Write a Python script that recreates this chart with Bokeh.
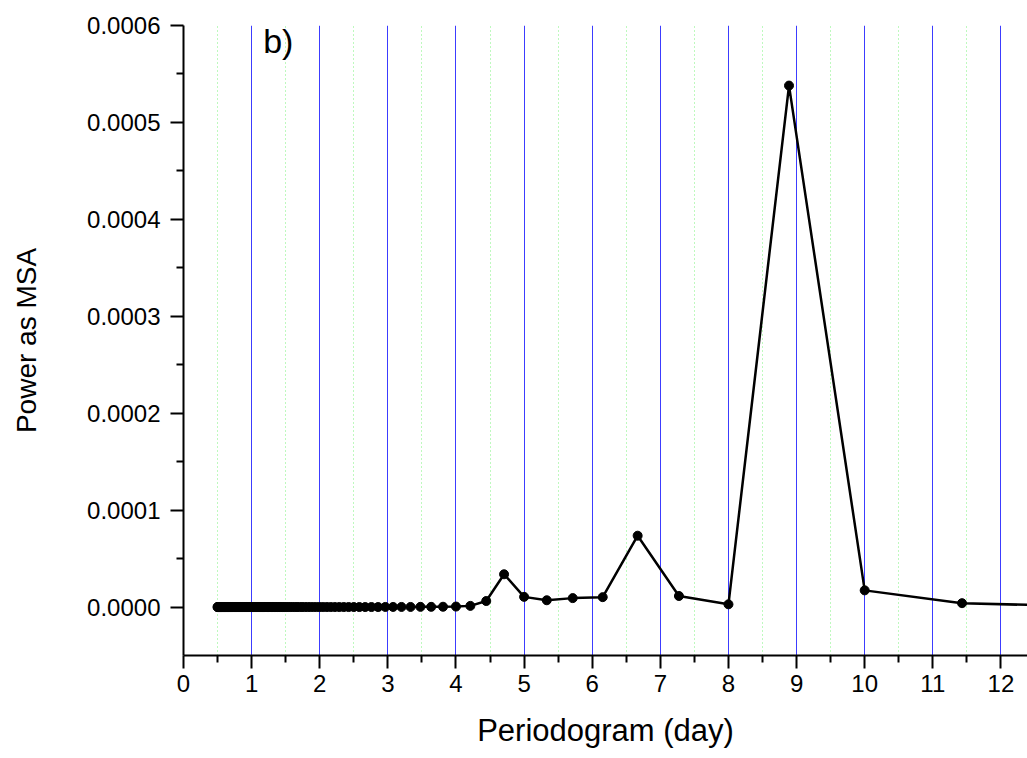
from bokeh.plotting import figure
from bokeh.models import FixedTicker, PrintfTickFormatter, Range1d, Label
from bokeh.embed import file_html
from bokeh.resources import INLINE

# Period (day) of each periodogram ordinate
period_days = [
    13.333, 11.429, 10.000, 8.889, 8.000, 7.273, 6.667, 6.154, 5.714, 5.333,
    5.000, 4.706, 4.444, 4.211, 4.000, 3.810, 3.636, 3.478, 3.333, 3.200,
    3.077, 2.963, 2.857, 2.759, 2.667, 2.581, 2.500, 2.424, 2.353, 2.286,
    2.222, 2.162, 2.105, 2.051, 2.000, 1.951, 1.905, 1.860, 1.818, 1.778,
    1.739, 1.702, 1.667, 1.633, 1.600, 1.569, 1.538, 1.509, 1.481, 1.455,
    1.429, 1.404, 1.379, 1.356, 1.333, 1.311, 1.290, 1.270, 1.250, 1.231,
    1.212, 1.194, 1.176, 1.159, 1.143, 1.127, 1.111, 1.096, 1.081, 1.067,
    1.053, 1.039, 1.026, 1.013, 1.000, 0.988, 0.976, 0.964, 0.952, 0.941,
    0.930, 0.920, 0.909, 0.899, 0.889, 0.879, 0.870, 0.860, 0.851, 0.842,
    0.833, 0.825, 0.816, 0.808, 0.800, 0.792, 0.784, 0.777, 0.769, 0.762,
    0.755, 0.748, 0.741, 0.734, 0.727, 0.721, 0.714, 0.708, 0.702, 0.696,
    0.690, 0.684, 0.678, 0.672, 0.667, 0.661, 0.656, 0.650, 0.645, 0.640,
    0.635, 0.630, 0.625, 0.620, 0.615, 0.611, 0.606, 0.602, 0.597, 0.593,
    0.588, 0.584, 0.580, 0.576, 0.571, 0.567, 0.563, 0.559, 0.556, 0.552,
    0.548, 0.544, 0.541, 0.537, 0.533, 0.530, 0.526, 0.523, 0.519, 0.516,
    0.513, 0.510, 0.506, 0.503, 0.500,
]

# Power as MSA at each period
power_msa = [
    0.0000005, 0.0000040, 0.0000172, 0.000538, 0.0000028, 0.0000114, 0.0000736, 0.0000102, 0.0000092, 0.0000070,
    0.0000105, 0.0000338, 0.0000062, 0.0000012, 0.0000005, 0.0000003, 0.0000002, 0.0000002, 0.0000001, 0.0000001,
    0.0000001, 0.0000001, 0.0, 0.0, 0.0, 0.0, 0.0, 0.0, 0.0, 0.0,
    0.0, 0.0, 0.0, 0.0, 0.0, 0.0, 0.0, 0.0, 0.0, 0.0,
    0.0, 0.0, 0.0, 0.0, 0.0, 0.0, 0.0, 0.0, 0.0, 0.0,
    0.0, 0.0, 0.0, 0.0, 0.0, 0.0, 0.0, 0.0, 0.0, 0.0,
    0.0, 0.0, 0.0, 0.0, 0.0, 0.0, 0.0, 0.0, 0.0, 0.0,
    0.0, 0.0, 0.0, 0.0, 0.0, 0.0, 0.0, 0.0, 0.0, 0.0,
    0.0, 0.0, 0.0, 0.0, 0.0, 0.0, 0.0, 0.0, 0.0, 0.0,
    0.0, 0.0, 0.0, 0.0, 0.0, 0.0, 0.0, 0.0, 0.0, 0.0,
    0.0, 0.0, 0.0, 0.0, 0.0, 0.0, 0.0, 0.0, 0.0, 0.0,
    0.0, 0.0, 0.0, 0.0, 0.0, 0.0, 0.0, 0.0, 0.0, 0.0,
    0.0, 0.0, 0.0, 0.0, 0.0, 0.0, 0.0, 0.0, 0.0, 0.0,
    0.0, 0.0, 0.0, 0.0, 0.0, 0.0, 0.0, 0.0, 0.0, 0.0,
    0.0, 0.0, 0.0, 0.0, 0.0, 0.0, 0.0, 0.0, 0.0, 0.0,
    0.0, 0.0, 0.0, 0.0, 0.0,
]

x_major_ticks = [0, 1, 2, 3, 4, 5, 6, 7, 8, 9, 10, 11, 12]
x_minor_ticks = [0.5, 1.5, 2.5, 3.5, 4.5, 5.5, 6.5, 7.5, 8.5, 9.5, 10.5, 11.5, 12.5]
x_grid_ticks = [1, 2, 3, 4, 5, 6, 7, 8, 9, 10, 11, 12]
y_major_ticks = [0.0, 0.0001, 0.0002, 0.0003, 0.0004, 0.0005, 0.0006]
y_minor_ticks = [0.00005, 0.00015, 0.00025, 0.00035, 0.00045, 0.00055]

panel_label = "b)"
x_title = "Periodogram (day)"
y_title = "Power as MSA"

FONT = "Liberation Sans"

p = figure(width=1027, height=758, output_backend="svg", toolbar_location=None,
           x_range=Range1d(0, 12.39), y_range=Range1d(-0.00005, 0.0006),
           min_border_left=183, min_border_right=0, min_border_top=25,
           min_border_bottom=103)
p.outline_line_color = None
p.background_fill_color = "white"
p.border_fill_color = "white"

# grids
p.ygrid.visible = False
p.xgrid.ticker = FixedTicker(ticks=x_grid_ticks, minor_ticks=x_minor_ticks)
p.xgrid.grid_line_color = "#3c3cff"
p.xgrid.grid_line_width = 1
p.xgrid.minor_grid_line_color = "#7cf27c"
p.xgrid.minor_grid_line_width = 1
p.xgrid.minor_grid_line_dash = "1 3"

# data
p.line(period_days, power_msa, line_color="black", line_width=2.5)
p.scatter(period_days, power_msa, size=9, fill_color="black", line_color="black")

# axes
for ax in (p.xaxis[0], p.yaxis[0]):
    ax.axis_line_width = 2
    ax.axis_line_color = "black"
    ax.major_tick_line_width = 2
    ax.minor_tick_line_width = 2
    ax.major_tick_line_color = "black"
    ax.minor_tick_line_color = "black"
    ax.major_tick_in = 0
    ax.major_tick_out = 13
    ax.minor_tick_in = 0
    ax.minor_tick_out = 7
    ax.major_label_text_font = FONT
    ax.major_label_text_font_size = "24px"
    ax.major_label_text_color = "black"
    ax.axis_label_text_font = FONT
    ax.axis_label_text_font_style = "normal"
    ax.axis_label_text_color = "black"

p.xaxis.ticker = FixedTicker(ticks=x_major_ticks, minor_ticks=x_minor_ticks)
p.xaxis.axis_label = x_title
p.xaxis.axis_label_text_font_size = "31px"
p.xaxis.major_label_standoff = 6
p.xaxis.axis_label_standoff = 18

p.yaxis.ticker = FixedTicker(ticks=y_major_ticks, minor_ticks=y_minor_ticks)
p.yaxis.formatter = PrintfTickFormatter(format="%.4f")
p.yaxis.axis_label = y_title
p.yaxis.axis_label_text_font_size = "28px"
p.yaxis.major_label_standoff = 10
p.yaxis.axis_label_standoff = 42

p.add_layout(Label(x=1.17, y=0.000584, text=panel_label, text_font=FONT,
                   text_font_size="34px", text_color="black",
                   text_align="left", text_baseline="alphabetic"))

open("out.html", "w").write(file_html(p, INLINE))
